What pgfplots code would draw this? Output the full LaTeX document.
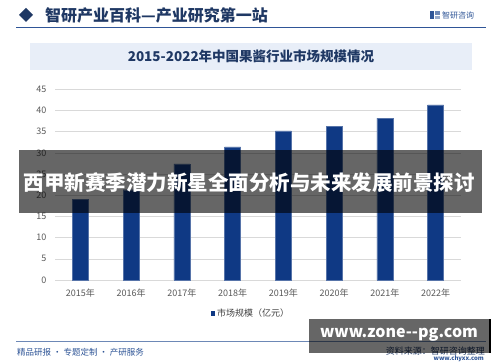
\documentclass[border=0pt]{standalone}
\usepackage{pgfplots}
\pgfplotsset{compat=1.18}
\usepackage{fontspec}
\setmainfont{Noto Sans CJK SC}
\definecolor{navy}{HTML}{1F3864}
\definecolor{barblue}{HTML}{0F3984}
\definecolor{gridgray}{HTML}{D9D9D9}
\definecolor{titlebg}{HTML}{E8EEF8}
\definecolor{linkblue}{HTML}{2F5597}
\begin{document}
\begin{tikzpicture}[x=1pt,y=1pt]
\path[use as bounding box] (0,0) rectangle (500,362);
\fill[white] (0,0) rectangle (500,362);
% header
\fill[navy] (19,347) -- (26,354) -- (33,347) -- (26,340) -- cycle;
\node[anchor=west, text=navy, font=\bfseries\fontsize{16}{16}\selectfont, inner sep=0] at (45,347) {智研产业百科—产业研究第一站};
\draw[linkblue, line width=0.9pt] (16,335) -- (486,335);
\fill[linkblue] (430,343) rectangle (434,351);
\fill[linkblue!70] (435,347) rectangle (440,351);
\fill[linkblue!50] (435,343) rectangle (440,346);
\node[anchor=west, text=linkblue, font=\fontsize{8}{8}\selectfont, inner sep=0] at (442,347) {智研咨询};
% title box
\fill[titlebg] (30,292) rectangle (472,319.3);
\node[text=navy, font=\bfseries\fontsize{13.5}{13.5}\selectfont, inner sep=0] at (251,305.5) {2015-2022年中国果酱行业市场规模情况};
% chart
\begin{axis}[
  at={(55pt,82pt)}, anchor=south west,
  scale only axis, width=406pt, height=190.7pt,
  xmin=-0.5, xmax=7.5, ymin=0, ymax=45,
  ytick={0,5,...,45},
  xtick={0,...,7},
  xticklabels={2015年,2016年,2017年,2018年,2019年,2020年,2021年,2022年},
  ymajorgrids, grid style={gridgray, line width=0.6pt},
  axis x line*=bottom,
  axis y line*=left,
  x axis line style={draw=gridgray, line width=0.6pt, -},
  y axis line style={draw=none},
  major tick length=0pt,
  tick style={draw=none},
  ticklabel style={text=black!65, font=\fontsize{9}{9}\selectfont},
  /pgf/number format/assume math mode=true,
  yticklabel style={anchor=east, xshift=-5pt},
  xticklabel style={yshift=-5pt},
  ybar, bar width=16pt,
  clip=false,
]
\addplot[fill=barblue, draw=barblue!70!white, line width=0.4pt] coordinates {
(0,19.0) (1,21.3) (2,27.4) (3,31.4) (4,35.2) (5,36.2) (6,38.2) (7,41.3)};
\end{axis}
% legend
\fill[barblue] (210.5,46.5) rectangle (215,51);
\node[anchor=west, text=black!75, font=\fontsize{9}{9}\selectfont, inner sep=0] at (217,49) {市场规模（亿元）};
% footer
\draw[linkblue!70, line width=0.8pt] (16,20.3) -- (486,20.3);
\node[anchor=west, text=linkblue, font=\fontsize{8.5}{8.5}\selectfont, inner sep=0] at (17,10) {精品研报 · 专题定制 · 产研服务};
\node[anchor=east, text=navy, font=\fontsize{9}{9}\selectfont, inner sep=0] at (485,10.5) {资料来源：智研咨询整理};
\node[anchor=east, text=linkblue, font=\bfseries\fontsize{6}{6}\selectfont, inner sep=0] at (484,3.5) {www.chyxx.com};
% overlay banner
\fill[black, opacity=0.6] (19,149.3) rectangle (482,212);
\node[text=white, font=\bfseries\fontsize{20.5}{20.5}\selectfont, inner sep=0] at (249,179) {西甲新赛季潜力新星全面分析与未来发展前景探讨};
% watermark box
\fill[black, opacity=0.6] (309,9.3) rectangle (490,43);
\fill[black] (489,9.3) rectangle (490.5,43);
\node[text=white, font=\bfseries\fontsize{16}{16}\selectfont, inner sep=0] at (399,27) {www.zone{-}{-}pg.com};
\end{tikzpicture}
\end{document}
